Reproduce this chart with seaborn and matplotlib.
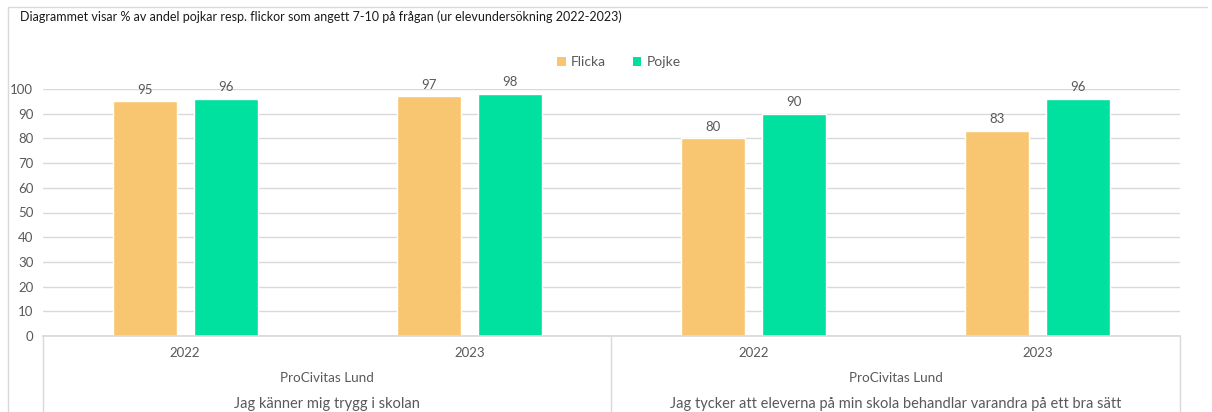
import matplotlib
matplotlib.use("Agg")
import matplotlib.pyplot as plt
import seaborn as sns
import pandas as pd
from matplotlib.patches import Patch
from matplotlib.lines import Line2D

# ---- data ----
questions = ["Jag känner mig trygg i skolan",
             "Jag tycker att eleverna på min skola behandlar varandra på ett bra sätt"]
school = "ProCivitas Lund"
years = ["2022", "2023"]
flicka = [95, 97, 80, 83]
pojke = [96, 98, 90, 96]
series = ["Flicka", "Pojke"]
colors = {"Flicka": "#F8C671", "Pojke": "#00E09F"}
title = "Diagrammet visar % av andel pojkar resp. flickor som angett 7-10 på frågan (ur elevundersökning 2022-2023)"

cats = [f"{q}|{y}" for q in questions for y in years]
df = pd.DataFrame({
    "cat": cats * 2,
    "Kön": ["Flicka"] * 4 + ["Pojke"] * 4,
    "value": flicka + pojke,
})

sns.set_theme(style="white")
plt.rcParams["font.family"] = ["Lato", "DejaVu Sans"]

W, H = 1212, 412
fig = plt.figure(figsize=(W / 100, H / 100), dpi=100)
ax = fig.add_axes([43 / W, 1 - 336 / H, (1180 - 43) / W, (336 - 89) / H])

sns.barplot(data=df, x="cat", y="value", hue="Kön", order=cats, hue_order=series,
            palette=colors, width=0.57, gap=0.21, ax=ax, legend=False, saturation=1)

txt = "#595959"
for cont in ax.containers:
    ax.bar_label(cont, padding=4, fontsize=9.5, color=txt)

ax.set_ylim(0, 100)
ax.set_xlim(-0.5, 3.5)
ax.set_yticks(range(0, 101, 10))
ax.yaxis.grid(True, color="#d9d9d9", lw=1)
ax.set_axisbelow(True)
for s in ["top", "left", "right"]:
    ax.spines[s].set_visible(False)
ax.spines["bottom"].set_color("#d9d9d9")
ax.tick_params(axis="y", length=0, pad=7, labelsize=9.5, labelcolor=txt)
ax.set_xticks([])
ax.set_xlabel("")
ax.set_ylabel("")

tr = ax.get_xaxis_transform()
ah = 336 - 89
for i, c in enumerate(cats):
    ax.text(i, -(353 - 336) / ah, years[i % 2], transform=tr, ha="center", va="center",
            fontsize=9.5, color=txt, clip_on=False)
for j, q in enumerate(questions):
    xc = 2 * j + 0.5
    ax.text(xc, -(378 - 336) / ah, school, transform=tr, ha="center", va="center",
            fontsize=9.7, color=txt, clip_on=False)
    ax.text(xc, -(404 - 336) / ah, q, transform=tr, ha="center", va="center",
            fontsize=10.5, color=txt, clip_on=False)
for xv in [-0.5, 1.5, 3.5]:
    ax.plot([xv, xv], [0, -(H - 336) / ah], transform=tr, color="#d9d9d9", lw=1, clip_on=False)

# outer frame (top & left)
fig.add_artist(Line2D([7.5 / W, 7.5 / W], [0, 1 - 7 / H], color="#d9d9d9", lw=1))
fig.add_artist(Line2D([7.5 / W, 1207 / W], [1 - 7 / H, 1 - 7 / H], color="#d9d9d9", lw=1))

fig.text(20 / W, 1 - 17 / H, title, fontsize=9, color="#1a1a1a", ha="left", va="center")

handles = [Patch(facecolor=colors[s], edgecolor="none", label=s) for s in series]
fig.legend(handles=handles, loc="center", bbox_to_anchor=(619 / W, 1 - 62 / H), ncol=2,
           frameon=False, fontsize=10, labelcolor=txt, handlelength=0.6, handleheight=0.6,
           handletextpad=0.4, columnspacing=1.9)

fig.savefig("out.png", dpi=100)
